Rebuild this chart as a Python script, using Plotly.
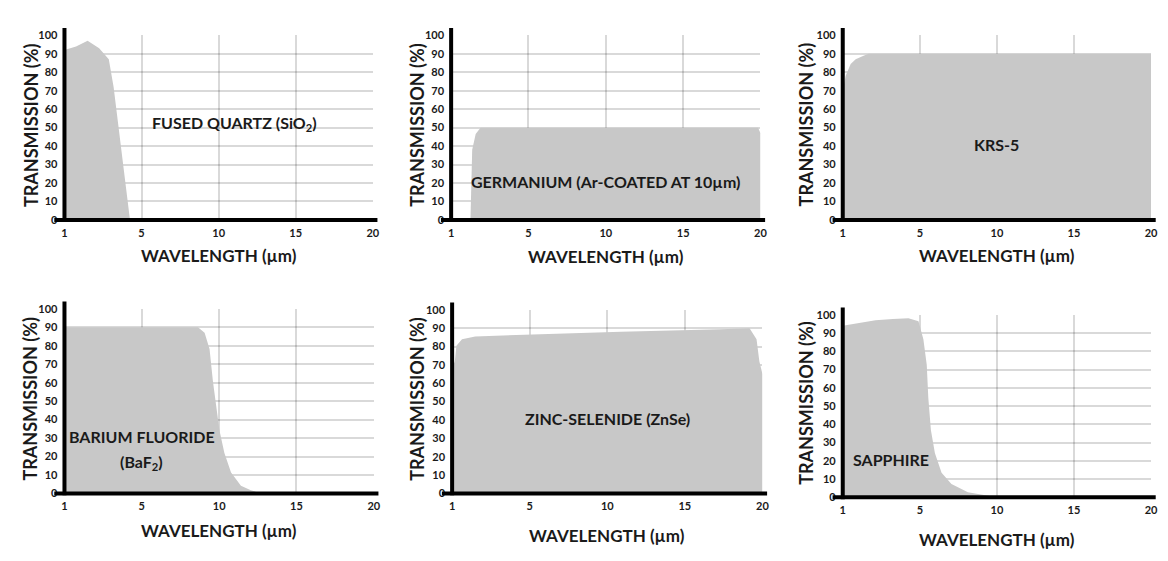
import plotly.graph_objects as go

# ---------------- data (wavelength in µm, transmission in %) -------------
x_tick_labels = [1, 5, 10, 15, 20]
y_tick_values = [0, 10, 20, 30, 40, 50, 60, 70, 80, 90, 100]

quartz_wl = [1.0, 1.6, 2.2, 2.8, 3.3, 3.55, 4.4]
quartz_t = [92, 94, 97, 93, 87, 72, 0]

germanium_wl = [2.0, 2.04, 2.09, 2.27, 2.52, 19.85, 20.0]
germanium_t = [0, 25, 38, 46.6, 50, 50, 47]

krs5_wl = [1.0, 1.15, 1.41, 1.67, 2.08, 2.34, 20.0]
krs5_t = [70, 78, 84.5, 87, 89, 90, 90]

baf2_wl = [1.0, 8.63, 9.06, 9.38, 9.6, 9.81, 10.02, 10.34, 10.77, 11.41, 12.05, 12.7]
baf2_t = [90, 90, 87, 78.3, 60.7, 46.6, 34.2, 21.9, 11.3, 4.2, 1.8, 0]

znse_wl = [1.0, 1.14, 1.22, 1.51, 2.19, 4.58, 10.9, 17.3, 19.17, 19.62, 19.8, 20.0]
znse_t = [68, 72, 80.5, 84, 85.5, 86.4, 88.1, 89.4, 90, 84, 72, 65]

sapphire_wl = [1.0, 1.5, 2.7, 3.6, 4.41, 4.93, 5.23, 5.45, 5.55, 5.72, 5.98, 6.41, 7.05, 8.12, 9.63, 10.0]
sapphire_t = [94, 95, 97, 97.7, 98, 96.4, 86.6, 72.4, 54.5, 36.7, 24.2, 13.5, 7.3, 2.8, 0.3, 0]

labels = [
    ["FUSED QUARTZ (SiO<sub>2</sub>)"],
    ["GERMANIUM (Ar-COATED AT 10µm)"],
    ["KRS-5"],
    ["BARIUM FLUORIDE", "(BaF<sub>2</sub>)"],
    ["ZINC-SELENIDE (ZnSe)"],
    ["SAPPHIRE"],
]


# The original chart spaces the 1, 5, 10, 15, 20 labels evenly: map µm to that axis scale.
def axis_pos(w):
    return (w - 1) * 5 / 4 if w <= 5 else w


series = [
    (quartz_wl, quartz_t),
    (germanium_wl, germanium_t),
    (krs5_wl, krs5_t),
    (baf2_wl, baf2_t),
    (znse_wl, znse_t),
    (sapphire_wl, sapphire_t),
]

W, H = 1168, 561
# plot areas in pixels: (left, right, top, bottom)
boxes = [
    (62, 373, 29, 218),
    (452, 764, 29, 218),
    (847, 1158, 29, 218),
    (62, 374, 309, 498),
    (453, 766, 310, 498),
    (847, 1158, 315, 502),
]
# label positions in axis-domain fractions, and title offsets
label_pos = [
    [(0.55, 0.52)],
    [(0.5, 0.21)],
    [(0.5, 0.41)],
    [(0.25, 0.31), (0.25, 0.17)],
    [(0.5, 0.41)],
    [(0.155, 0.21)],
]
xtitle_shift = [36, 37, 36, 37, 42, 42]
ytitle_shift = [34, 34, 37, 34, 35, 37]

FONT = "Lato"
fill_col = "#c8c8c8"
grid_col = "rgba(0,0,0,0.15)"
text_col = "#1a1a1a"

fig = go.Figure()
layout = dict(
    width=W, height=H, margin=dict(l=0, r=0, t=0, b=0),
    paper_bgcolor="white", plot_bgcolor="white", showlegend=False,
    font=dict(family=FONT, color=text_col),
)
shapes = []
annotations = []

for i, ((wl, t), (l, r, tp, bt)) in enumerate(zip(series, boxes)):
    n = "" if i == 0 else str(i + 1)
    xa, ya = "x" + n, "y" + n
    fig.add_trace(go.Scatter(
        x=[axis_pos(w) for w in wl], y=t, xaxis=xa, yaxis=ya,
        mode="lines", line=dict(width=0, color=fill_col),
        fill="tozeroy", fillcolor=fill_col, hoverinfo="skip",
    ))
    common = dict(showgrid=True, gridcolor=grid_col, gridwidth=1.5, zeroline=False,
                  showline=False, layer="above traces", fixedrange=True,
                  tickfont=dict(family=FONT, size=11, color=text_col, weight="bold"))
    layout["xaxis" + n] = dict(
        domain=[l / W, r / W], anchor=ya, range=[0, 20],
        tickmode="array", tickvals=[axis_pos(v) for v in x_tick_labels],
        ticktext=[str(v) for v in x_tick_labels], ticklabelstandoff=5, **common)
    layout["yaxis" + n] = dict(
        domain=[1 - bt / H, 1 - tp / H], anchor=xa, range=[0, 100],
        tickmode="array", tickvals=y_tick_values, ticklabelstandoff=6, **common)

    xd, yd = xa + " domain", ya + " domain"
    # heavy axis lines
    shapes.append(dict(type="line", xref=xd, yref=yd, x0=-0.033, x1=1.015, y0=0, y1=0,
                       line=dict(color="black", width=4), layer="above"))
    shapes.append(dict(type="line", xref=xd, yref=yd, x0=0, x1=0, y0=-0.01, y1=1.04,
                       line=dict(color="black", width=4), layer="above"))
    # axis titles
    annotations.append(dict(text="WAVELENGTH (µm)", xref=xd, yref=yd, x=0.5, y=0,
                            yshift=-xtitle_shift[i], xanchor="center", yanchor="middle",
                            showarrow=False, font=dict(family=FONT, size=17, color=text_col, weight="bold")))
    annotations.append(dict(text="TRANSMISSION (%)", xref=xd, yref=yd, x=0, y=0.5,
                            xshift=-ytitle_shift[i], yshift=3, textangle=-90,
                            xanchor="center", yanchor="middle", showarrow=False,
                            font=dict(family=FONT, size=18, color=text_col, weight="bold")))
    for txt, (px, py) in zip(labels[i], label_pos[i]):
        annotations.append(dict(text=txt, xref=xd, yref=yd, x=px, y=py,
                                xanchor="center", yanchor="middle", showarrow=False,
                                font=dict(family=FONT, size=16, color=text_col, weight="bold")))

layout["shapes"] = shapes
layout["annotations"] = annotations
fig.update_layout(**layout)
fig.write_html("out.html", config={"displayModeBar": False},
               post_script="document.body.style.margin='0';")
